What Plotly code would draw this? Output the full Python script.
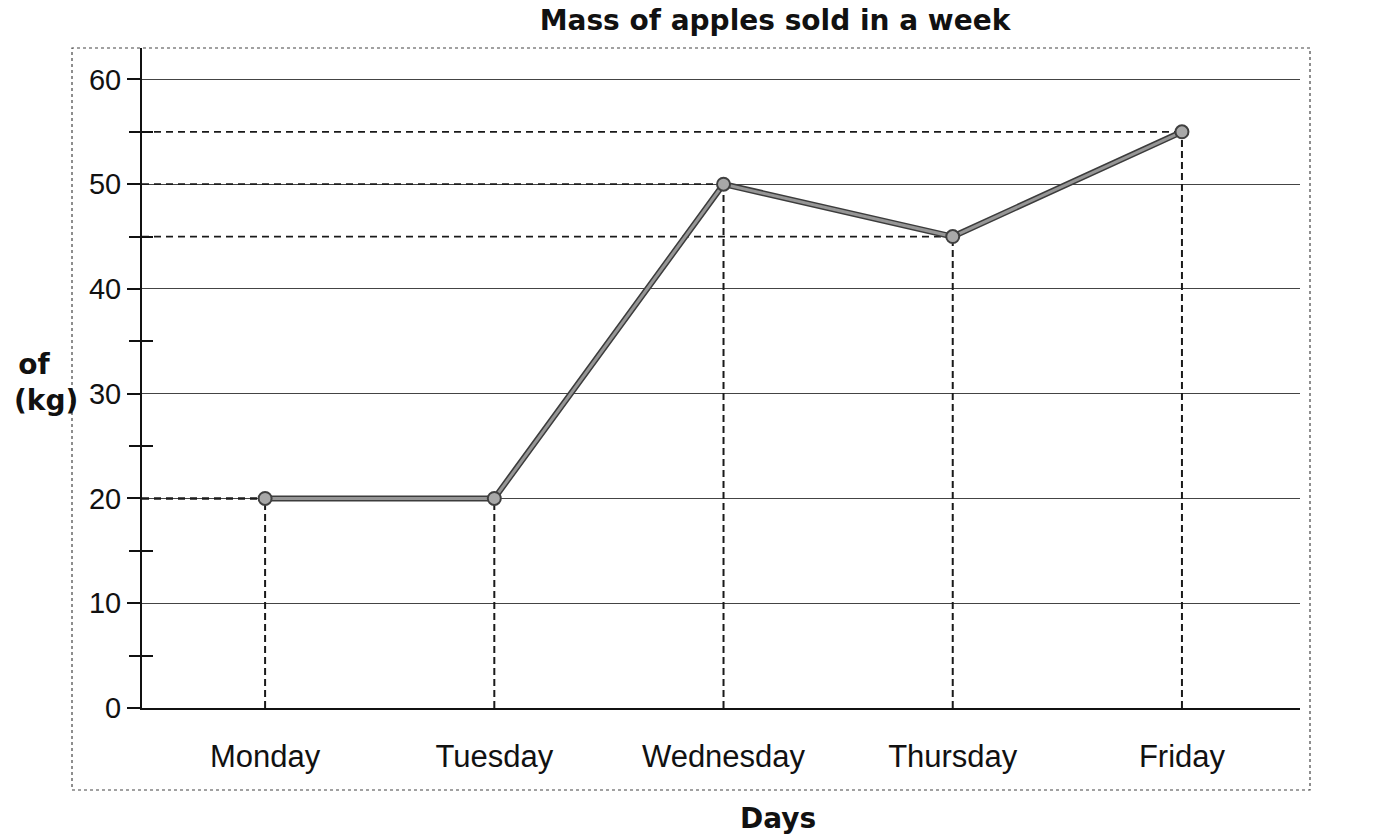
import plotly.graph_objs as go

# Data
days = ['Monday', 'Tuesday', 'Wednesday', 'Thursday', 'Friday']
mass_kg = [20, 20, 50, 45, 55]
day_pos = list(range(len(days)))

X_START = -0.537
X_END = 4.515

# the page has an 8px body margin, so the figure is shifted back by that much
W, H = 1377, 835
OFF = 8


def drop_lines(fig):
    # dashed guides from each point down to the x axis and across to the y axis
    for x, y in zip(day_pos, mass_kg):
        fig.add_trace(go.Scatter(
            x=[x, x], y=[0, y], mode='lines',
            line=dict(color='#1a1a1a', width=2, dash='7px,4px'),
            hoverinfo='skip', showlegend=False
        ))
        fig.add_trace(go.Scatter(
            x=[X_START, x], y=[y, y], mode='lines',
            line=dict(color='#1a1a1a', width=1.8, dash='7px,5px'),
            hoverinfo='skip', showlegend=False
        ))


def main():
    fig = go.Figure()
    drop_lines(fig)

    # thick grey line with a dark edge
    fig.add_trace(go.Scatter(
        x=day_pos, y=mass_kg, mode='lines',
        line=dict(color='#3c3c3c', width=6),
        hoverinfo='skip', showlegend=False
    ))
    fig.add_trace(go.Scatter(
        x=day_pos, y=mass_kg, mode='lines+markers',
        line=dict(color='#969696', width=3),
        marker=dict(size=13, color='#a8a8a8', line=dict(color='#404040', width=2)),
        name='Mass', showlegend=False
    ))

    fig.update_layout(
        width=W, height=H,
        margin=dict(l=142 - OFF, r=W - (1300 - OFF), t=48 - OFF, b=H - (708 - OFF)),
        paper_bgcolor='white', plot_bgcolor='white',
        font=dict(family='Liberation Sans, Arial, sans-serif', color='#111'),
        title=dict(
            text='<b>Mass of apples sold in a week</b>',
            font=dict(family='DejaVu Sans', size=28, color='#111'),
            x=(775 - OFF) / W, xanchor='center', xref='container',
            y=1 - 2 / H, yanchor='top', yref='container', pad=dict(t=0)
        ),
        xaxis=dict(
            range=[X_START, X_END],
            tickvals=day_pos, ticktext=days,
            showgrid=False, zeroline=False,
            showline=True, linecolor='#111', linewidth=2,
            ticks='', ticklabelstandoff=20,
            tickfont=dict(size=31, color='#111')
        ),
        yaxis=dict(
            range=[0, 63], dtick=10, tick0=0,
            showgrid=True, gridcolor='#444', gridwidth=1,
            zeroline=False,
            showline=True, linecolor='#111', linewidth=2,
            ticks='outside', ticklen=13, tickwidth=1.5, tickcolor='#111',
            minor=dict(dtick=5, ticks='outside', ticklen=11, tickwidth=1.5,
                       tickcolor='#111', showgrid=False),
            tickfont=dict(size=29, color='#111')
        ),
        # second axis only to draw the inner half of the minor ticks
        yaxis2=dict(
            range=[0, 63], overlaying='y', side='left',
            tick0=5, dtick=10, ticks='inside', ticklen=11, tickwidth=1.5,
            tickcolor='#111', showticklabels=False, showgrid=False,
            zeroline=False, showline=False
        ),
        shapes=[dict(
            type='rect', xref='paper', yref='paper',
            x0=(72 - 142) / 1158, x1=(1310 - 142) / 1158,
            y0=(708 - 790) / 660, y1=1.0,
            line=dict(color='#444', width=1.2, dash='dot'),
            layer='below'
        )],
        annotations=[
            dict(text='<b>Mass of<br>apples (kg)</b>', xref='paper', yref='paper',
                 x=(-11 - 142) / 1158, y=(708 - 382) / 660,
                 xanchor='center', yanchor='middle', align='center',
                 showarrow=False,
                 font=dict(family='DejaVu Sans', size=28, color='#111')),
            dict(text='<b>Days</b>', xref='paper', yref='paper',
                 x=(778 - 142) / 1158, y=(708 - 818) / 660,
                 xanchor='center', yanchor='middle', showarrow=False,
                 font=dict(family='DejaVu Sans', size=28, color='#111'))
        ]
    )

    # dummy trace so yaxis2 is drawn
    fig.add_trace(go.Scatter(x=[None], y=[None], yaxis='y2', showlegend=False,
                             hoverinfo='skip'))

    fig.write_html('out.html')


main()
